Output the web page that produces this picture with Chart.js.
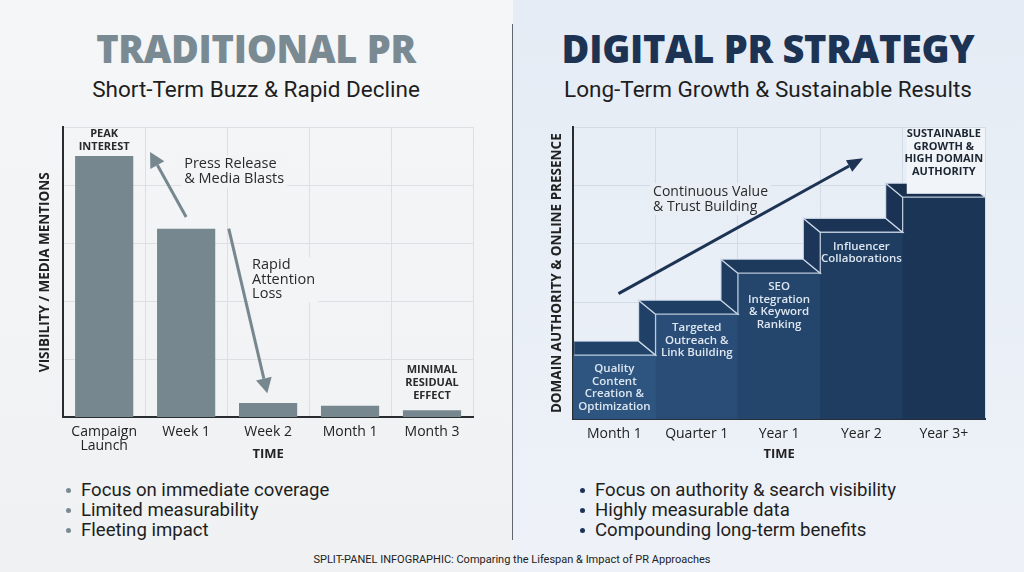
<!DOCTYPE html>
<html>
<head>
<meta charset="utf-8">
<script src="https://cdn.jsdelivr.net/npm/chart.js@4.4.0/dist/chart.umd.min.js"></script>
<style>
  body { margin:0; width:1024px; height:572px; overflow:hidden; position:relative; font-family:'Open Sans',sans-serif; }
  #leftPanel { position:absolute; left:0; top:0; width:513px; height:572px; background:linear-gradient(#f5f6f7,#eff1f2); }
  #rightPanel { position:absolute; left:513px; top:0; width:511px; height:572px; background:linear-gradient(#e5ecf5,#eef2f8); }
  .divider { position:absolute; left:512px; top:24px; width:1px; height:516px; background:#60666d; }
  .title { position:absolute; top:22px; width:512px; text-align:center; margin:0; font-family:'Open Sans',sans-serif; font-weight:800; font-size:38px; letter-spacing:-0.3px; line-height:52px; }
  .sub { position:absolute; top:75px; width:512px; text-align:center; font-family:Roboto,sans-serif; font-size:22.5px; color:#1e1e1e; line-height:28px; }
  .chartBox { position:absolute; top:110px; width:512px; height:360px; }
  ul { position:absolute; top:480px; margin:0; padding:0; list-style:none; font-family:Roboto,sans-serif; font-size:18.6px; color:#1e1e1e; }
  li { line-height:20px; position:relative; padding-left:15px; }
  li::before { content:""; position:absolute; left:0; top:8px; width:5px; height:5px; border-radius:50%; }
  #leftList li::before { background:#7a8a93; }
  #rightList li::before { background:#1d3354; }
  .footer { position:absolute; top:553px; left:0; width:1024px; text-align:center; font-family:Roboto,sans-serif; font-size:11px; color:#222; }
</style>
</head>
<body>
<div id="leftPanel"></div>
<div id="rightPanel"></div>
<div class="divider"></div>

<div class="title" style="left:0;color:#7a8a93">TRADITIONAL PR</div>
<div class="sub" style="left:0">Short-Term Buzz &amp; Rapid Decline</div>
<div class="title" style="left:512px;color:#1d3354">DIGITAL PR STRATEGY</div>
<div class="sub" style="left:512px">Long-Term Growth &amp; Sustainable Results</div>

<div class="chartBox" style="left:0"><canvas id="leftChart" width="512" height="360"></canvas></div>
<div class="chartBox" style="left:512px"><canvas id="rightChart" width="512" height="360"></canvas></div>

<ul id="leftList" style="left:66px"></ul>
<ul id="rightList" style="left:580px"></ul>
<div class="footer">SPLIT-PANEL INFOGRAPHIC: Comparing the Lifespan &amp; Impact of PR Approaches</div>

<script>
// data
const leftLabels = [["Campaign", "Launch"], "Week 1", "Week 2", "Month 1", "Month 3"];
const leftValues = [90, 65, 5, 4, 2.5];

const rightLabels = ["Month 1", "Quarter 1", "Year 1", "Year 2", "Year 3+"];
const rightValues = [22, 36, 50, 64, 76];
const rightStepText = [
  ["Quality", "Content", "Creation &", "Optimization"],
  ["Targeted", "Outreach &", "Link Building"],
  ["SEO", "Integration", "& Keyword", "Ranking"],
  ["Influencer", "Collaborations"],
  []
];

const leftBullets = ["Focus on immediate coverage", "Limited measurability", "Fleeting impact"];
const rightBullets = ["Focus on authority & search visibility", "Highly measurable data", "Compounding long-term benefits"];

// colours
const grayBar = "#77878f";
const navy = "#1d3354";
const frontColors = ["#2d5580", "#294d77", "#24456c", "#1f3d61", "#1b3557"];
const topColors = ["#21436a", "#1f3e63", "#1d395c", "#1b3455", "#19304f"];
const sideColors = ["#23456c", "#214068", "#1e3b61", "#1c365a", "#1a3253"];

leftBullets.forEach(t => { const li = document.createElement("li"); li.textContent = t; document.getElementById("leftList").appendChild(li); });
rightBullets.forEach(t => { const li = document.createElement("li"); li.textContent = t; document.getElementById("rightList").appendChild(li); });

Chart.defaults.font.family = "'Open Sans', sans-serif";
Chart.defaults.color = "#222";

function arrow(ctx, x1, y1, x2, y2, color, lw, hl, hw) {
  const a = Math.atan2(y2 - y1, x2 - x1);
  const bx = x2 - hl * Math.cos(a), by = y2 - hl * Math.sin(a);
  ctx.strokeStyle = color; ctx.lineWidth = lw;
  ctx.beginPath(); ctx.moveTo(x1, y1); ctx.lineTo(bx, by); ctx.stroke();
  ctx.fillStyle = color;
  ctx.beginPath(); ctx.moveTo(x2, y2);
  ctx.lineTo(bx + hw / 2 * Math.sin(a), by - hw / 2 * Math.cos(a));
  ctx.lineTo(bx - hw / 2 * Math.sin(a), by + hw / 2 * Math.cos(a));
  ctx.closePath(); ctx.fill();
}

function textBlock(ctx, lines, x, y, lh, align, font, color, bg) {
  ctx.font = font;
  ctx.textAlign = align;
  ctx.textBaseline = "middle";
  if (bg) {
    let w = 0;
    lines.forEach(l => { w = Math.max(w, ctx.measureText(l).width); });
    const bx = align === "center" ? x - w / 2 : x;
    ctx.fillStyle = bg;
    ctx.fillRect(bx - 3, y - lh / 2 - 1, w + 6, lh * lines.length + 2);
  }
  ctx.fillStyle = color;
  lines.forEach((l, i) => ctx.fillText(l, x, y + i * lh));
}

function scalesFor(gridColor, yTitle, titlePad, timePad) {
  return {
    x: {
      grid: { color: gridColor, drawTicks: false, offset: true },
      border: { color: "#2a2d30", width: 2 },
      ticks: { padding: 8, color: "#222", font: { size: 14, lineHeight: 1 } },
      title: { display: true, text: "TIME", color: "#222", font: { size: 13, weight: "bold" }, padding: { top: timePad, bottom: 0 } }
    },
    y: {
      min: 0, max: 100,
      grid: { color: gridColor, drawTicks: false },
      border: { color: "#2a2d30", width: 2 },
      ticks: { display: false, stepSize: 20 },
      title: { display: true, text: yTitle, color: "#222", font: { size: 13.5, weight: "bold" }, padding: { top: 4, bottom: titlePad } }
    }
  };
}

// left panel annotations
const leftNotes = {
  id: "leftNotes",
  afterDatasetsDraw(chart) {
    const ctx = chart.ctx, xs = chart.scales.x, ys = chart.scales.y;
    const px = v => xs.getPixelForValue(v), py = v => ys.getPixelForValue(v);
    ctx.save();
    arrow(ctx, px(1), py(69), px(0.56), py(91.4), grayBar, 3, 15, 16);
    arrow(ctx, px(1.52), py(65), px(1.99), py(8.3), grayBar, 3, 15, 16);
    textBlock(ctx, ["PEAK", "INTEREST"], px(0), py(97.6), 12.5, "center", "bold 11px 'Open Sans'", "#2a2a2a");
    textBlock(ctx, ["Press Release", "& Media Blasts"], px(0.976), py(87.2), 15, "left", "14.5px 'Open Sans'", "#2a2a2a", "#f3f4f5");
    textBlock(ctx, ["Rapid", "Attention", "Loss"], px(1.805), py(52.4), 14.5, "left", "14.5px 'Open Sans'", "#2a2a2a", "#f3f4f5");
    textBlock(ctx, ["MINIMAL", "RESIDUAL", "EFFECT"], px(4), py(16.2), 13, "center", "bold 11px 'Open Sans'", "#2a2a2a", "#f2f3f4");
    ctx.restore();
  }
};

// right panel: 3d steps + annotations
const DX = 17, DY = 14;
function poly(ctx, pts, fill) {
  ctx.beginPath();
  pts.forEach((p, i) => i ? ctx.lineTo(p[0], p[1]) : ctx.moveTo(p[0], p[1]));
  ctx.closePath();
  ctx.fillStyle = fill; ctx.fill();
  ctx.strokeStyle = "rgba(214,226,238,0.85)"; ctx.lineWidth = 1.3; ctx.stroke();
}
const rightNotes = {
  id: "rightNotes",
  afterDatasetsDraw(chart) {
    const ctx = chart.ctx, xs = chart.scales.x, ys = chart.scales.y, a = chart.chartArea;
    const px = v => xs.getPixelForValue(v), py = v => ys.getPixelForValue(v);
    const bars = chart.getDatasetMeta(0).data;
    ctx.save();
    ctx.beginPath(); ctx.rect(a.left + 1, a.top - 30, a.right - a.left, a.bottom - a.top + 30); ctx.clip();
    bars.forEach((b, i) => {
      const l = b.x - b.width / 2, r = b.x + b.width / 2, t = b.y;
      if (i > 0) {
        const pt = bars[i - 1].y;
        poly(ctx, [[l - DX, t - DY], [l, t], [l, pt], [l - DX, pt - DY]], sideColors[i]);
      }
      poly(ctx, [[l - DX, t - DY], [r - DX, t - DY], [r, t], [l, t]], topColors[i]);
    });
    ctx.restore();
    ctx.save();
    bars.forEach((b, i) => {
      textBlock(ctx, rightStepText[i], b.x, b.y + 14, 12.5, "center", "600 11.5px 'Open Sans'", "#dde6f0");
    });
    ctx.fillStyle = "#f1f4f8";
    ctx.fillRect(px(3.55), a.top + 1, px(4.5) - px(3.55), py(77.5) - a.top);
    textBlock(ctx, ["SUSTAINABLE", "GROWTH &", "HIGH DOMAIN", "AUTHORITY"], px(4), py(97.6), 12.5, "center", "bold 11px 'Open Sans'", "#1c2633");
    textBlock(ctx, ["Continuous Value", "& Trust Building"], px(0.47), py(77.9), 15, "left", "14px 'Open Sans'", "#2a2a2a", "#e9eef5");
    arrow(ctx, px(0.05), py(43), px(3.02), py(89.3), navy, 3, 16, 13);
    ctx.restore();
  }
};

new Chart(document.getElementById("leftChart"), {
  type: "bar",
  data: {
    labels: leftLabels,
    datasets: [{ data: leftValues, backgroundColor: grayBar, barPercentage: 0.71, categoryPercentage: 1 }]
  },
  options: {
    responsive: false,
    animation: false,
    layout: { padding: { left: 33, right: 39, top: 17, bottom: 8 } },
    plugins: { legend: { display: false }, tooltip: { enabled: false } },
    scales: scalesFor("#dde0e3", "VISIBILITY / MEDIA MENTIONS", 10, -15)
  },
  plugins: [leftNotes]
});

new Chart(document.getElementById("rightChart"), {
  type: "bar",
  data: {
    labels: rightLabels,
    datasets: [{ data: rightValues, backgroundColor: frontColors, barPercentage: 1, categoryPercentage: 1 }]
  },
  options: {
    responsive: false,
    animation: false,
    layout: { padding: { left: 33, right: 39, top: 17, bottom: 8 } },
    plugins: { legend: { display: false }, tooltip: { enabled: false } },
    scales: scalesFor("#d2dbe6", "DOMAIN AUTHORITY & ONLINE PRESENCE", 8, -3)
  },
  plugins: [rightNotes]
});
</script>
</body>
</html>
